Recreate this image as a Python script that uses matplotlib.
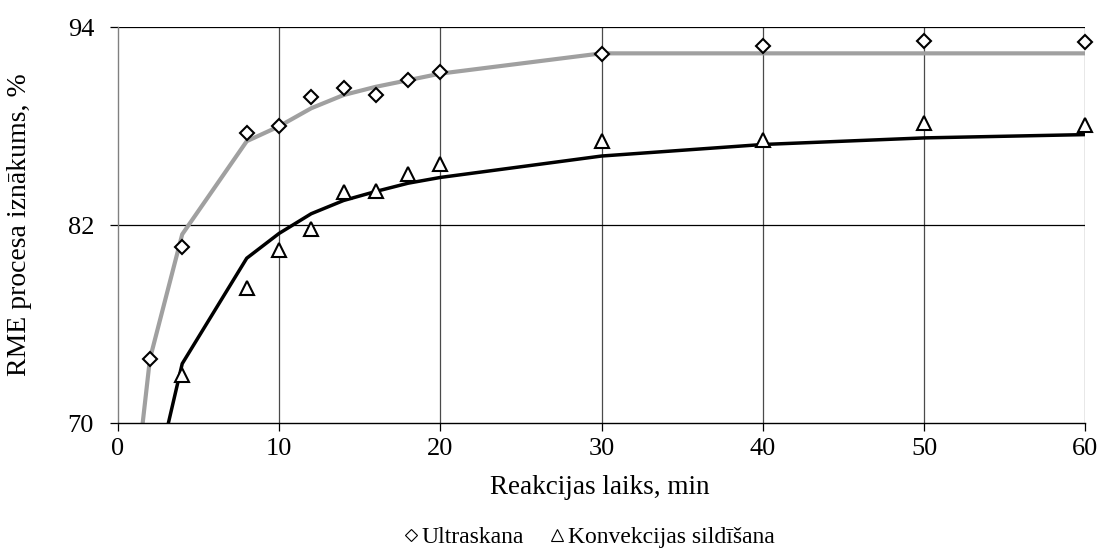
import numpy as np
import matplotlib.pyplot as plt
from matplotlib.lines import Line2D

plt.rcParams['font.family'] = ['Liberation Serif', 'DejaVu Serif']

# measured points
t_us = [2, 4, 8, 10, 12, 14, 16, 18, 20, 30, 40, 50, 60]
y_us = [73.9, 80.7, 87.6, 88.0, 89.8, 90.3, 89.9, 90.8, 91.3, 92.4, 92.9, 93.2, 93.1]
t_kv = [4, 8, 10, 12, 14, 16, 18, 20, 30, 40, 50, 60]
y_kv = [72.9, 78.2, 80.5, 81.8, 84.0, 84.1, 85.1, 85.7, 87.1, 87.2, 88.2, 88.1]

# model curves
tm_us = [0, 2, 4, 8, 10, 12, 14, 16, 18, 20, 30, 40, 50, 60]
ym_us = [56.6, 73.9, 81.45, 87.1, 88.0, 89.1, 89.9, 90.4, 90.8, 91.2, 92.43, 92.43, 92.43, 92.43]
tm_kv = [2, 4, 8, 10, 12, 14, 16, 18, 20, 30, 40, 50, 60]
ym_kv = [65.2, 73.6, 80.0, 81.5, 82.7, 83.5, 84.05, 84.55, 84.9, 86.2, 86.9, 87.3, 87.5]

fig = plt.figure(figsize=(11.01, 5.55), dpi=100)
ax = fig.add_axes([0.1069, 0.2378, 0.8790, 0.7127])

# grid
for x in [10, 20, 30, 40, 50, 60]:
    ax.axvline(x, color='#4a4a4a', lw=0.9, zorder=1)
for y in [82, 94]:
    ax.axhline(y, color='black', lw=0.9, zorder=1)

ax.plot(tm_us, ym_us, color='#a0a0a0', lw=3.0, zorder=2)
ax.plot(tm_kv, ym_kv, color='black', lw=2.5, zorder=2)

ax.plot(t_us, y_us, ls='none', marker='D', ms=7.5, mfc='white', mec='black', mew=1.5,
        zorder=3, clip_on=False)
ax.plot(t_kv, y_kv, ls='none', marker='^', ms=9.5, mfc='white', mec='black', mew=1.5,
        zorder=3, clip_on=False)

ax.set_xlim(0, 60)
ax.set_ylim(70, 94)
ax.set_xticks([0, 10, 20, 30, 40, 50, 60])
ax.set_yticks([70, 82, 94])
ax.tick_params(direction='out', length=6, width=0.9, labelsize=19, colors='black')
ax.tick_params(axis='y', pad=11)
ax.tick_params(axis='x', pad=5)
for s in ['top', 'right']:
    ax.spines[s].set_visible(False)
ax.spines['left'].set_color('#808080')
ax.spines['bottom'].set_color('black')
ax.spines['left'].set_linewidth(1.0)
ax.spines['bottom'].set_linewidth(1.0)

fig.text(0.545, 1 - 488 / 555, 'Reakcijas laiks, min', fontsize=19.5,
         ha='center', va='center')
fig.text(20 / 1101, 1 - 225 / 555, 'RME procesa iznākums, %', fontsize=20,
         rotation=90, ha='center', va='center')

handles = [
    Line2D([], [], ls='none', marker='D', ms=6, mfc='white', mec='black', mew=0.8),
    Line2D([], [], ls='none', marker='^', ms=8, mfc='white', mec='black', mew=0.8),
]
fig.legend(handles, ['Ultraskana', 'Konvekcijas sildīšana'], loc='center',
           bbox_to_anchor=(0.535, 1 - 537 / 555), ncol=2, frameon=False, fontsize=17,
           handlelength=0.6, handletextpad=0.15, columnspacing=1.1, borderpad=0)

fig.savefig('out.png', dpi=100)
